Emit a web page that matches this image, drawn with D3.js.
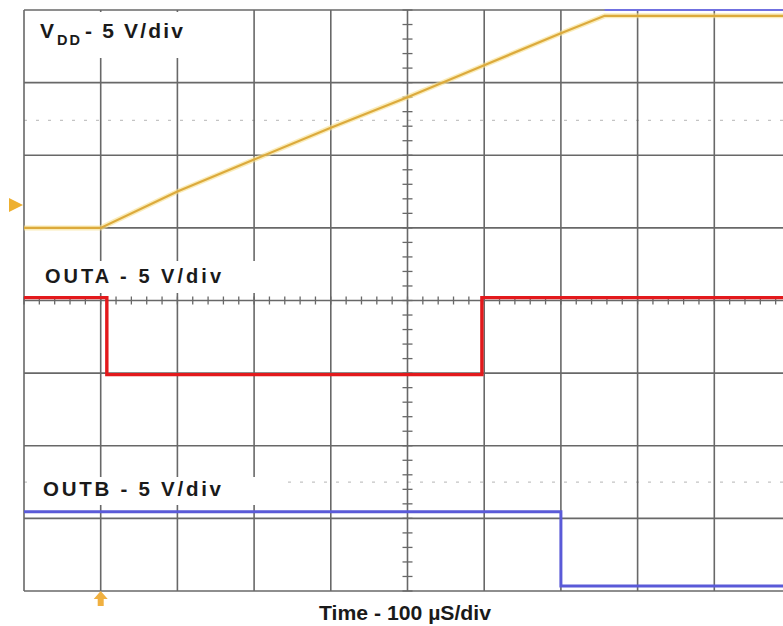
<!DOCTYPE html>
<html><head><meta charset="utf-8">
<script src="https://cdn.jsdelivr.net/npm/d3@7"></script>
<style>body{margin:0;background:#fff}svg{display:block}</style>
</head><body>
<svg id="c" width="783" height="626"></svg>
<script>
// ---- data (time in µs, voltage in V) ----
const vddT = [0, 100, 200, 300, 400, 500, 600, 700, 757, 1000];
const vddV = [0, 0, 2.5, 4.7, 6.9, 9.0, 11.2, 13.4, 14.6, 14.6];
const outaT = [0, 108, 108, 597, 597, 1000];
const outaV = [5.3, 5.3, 0, 0, 5.3, 5.3];
const outbT = [0, 700, 700, 1000];
const outbV = [5.1, 5.1, 0, 0];
const channels = ["VDD", "OUTA", "OUTB"];
const chOffsetDiv = [1, -1.02, -3.93];   // ground reference (divisions from centre)
const voltsPerDiv = [5, 5, 5];
const timeGrid = d3.range(0, 1001, 100);
const divGrid = d3.range(-4, 4.01, 1);
const axisLabel = "Time - 100 µS/div";

const svg = d3.select("#c");
const x = d3.scaleLinear().domain([0, 1000]).range([24, 791]);
const yDiv = d3.scaleLinear().domain([-4, 4]).range([591, 10]);
const yCh = i => v => yDiv(chOffsetDiv[i] + v / voltsPerDiv[i]);

// faint dashed remnants
[2.48, -2.5].forEach(d => {
  svg.append("line").attr("x1", 24).attr("x2", 783).attr("y1", yDiv(d)).attr("y2", yDiv(d))
    .attr("stroke", "#c4c4c4").attr("stroke-width", 1.2).attr("stroke-dasharray", "3,9");
});

// grid
const gridCol = "#686868";
const g = svg.append("g");
g.selectAll(".vg").data(timeGrid).join("line")
  .attr("x1", d => x(d)).attr("x2", d => x(d)).attr("y1", yDiv(4)).attr("y2", yDiv(-4))
  .attr("stroke", gridCol).attr("stroke-width", 1.6);
g.selectAll(".hg").data(divGrid).join("line")
  .attr("x1", x(0)).attr("x2", 783).attr("y1", d => yDiv(d)).attr("y2", d => yDiv(d))
  .attr("stroke", gridCol).attr("stroke-width", 1.6);
// minor ticks on centre axes
const minorY = d3.range(-4, 4.001, 0.2);
g.selectAll(".my").data(minorY).join("line")
  .attr("x1", x(500) - 5).attr("x2", x(500) + 5).attr("y1", d => yDiv(d)).attr("y2", d => yDiv(d))
  .attr("stroke", gridCol).attr("stroke-width", 1.3);
const minorX = d3.range(0, 1001, 20);
g.selectAll(".mx").data(minorX).join("line")
  .attr("x1", d => x(d)).attr("x2", d => x(d)).attr("y1", yDiv(0) - 4).attr("y2", yDiv(0) + 4)
  .attr("stroke", gridCol).attr("stroke-width", 1.3);

// top clipped trace segment
svg.append("line").attr("x1", x(757)).attr("x2", 783).attr("y1", yDiv(4)).attr("y2", yDiv(4))
  .attr("stroke", "#7070e0").attr("stroke-width", 2);

const line = (T, V, i) => d3.line().x((d, k) => x(T[k])).y((d, k) => yCh(i)(V[k]))(T);

// VDD trace
svg.append("path").attr("d", line(vddT, vddV, 0)).attr("fill", "none")
  .attr("stroke", "#f6e08a").attr("stroke-width", 5).attr("stroke-opacity", 0.6);
svg.append("path").attr("d", line(vddT, vddV, 0)).attr("fill", "none")
  .attr("stroke", "#dcaa3c").attr("stroke-width", 2.2);
// OUTA trace
svg.append("path").attr("d", line(outaT, outaV, 1)).attr("fill", "none")
  .attr("stroke", "#e3191c").attr("stroke-width", 3.4).attr("stroke-linejoin", "miter");
// OUTB trace
svg.append("path").attr("d", line(outbT, outbV, 2)).attr("fill", "none")
  .attr("stroke", "#5a5ad8").attr("stroke-width", 3).attr("stroke-linejoin", "miter");

// markers
svg.append("path").attr("d", d3.line()([[9, 198], [23, 205], [9, 212]])).attr("fill", "#eeb030");
const mx = x(100);
svg.append("path").attr("d", d3.line()([[mx - 7, 599], [mx, 591], [mx + 7, 599], [mx + 3, 599], [mx + 3, 606], [mx - 3, 606], [mx - 3, 599]]))
  .attr("fill", "#f0b040");

// labels
const font = "'Liberation Sans', Arial, sans-serif";
const col = "#1a1a1a";
svg.append("rect").attr("x", 27).attr("y", 12).attr("width", 223).attr("height", 46).attr("fill", "#fff");
svg.append("rect").attr("x", 27).attr("y", 261).attr("width", 232).attr("height", 32).attr("fill", "#fff");
svg.append("rect").attr("x", 27).attr("y", 477).attr("width", 253).attr("height", 28).attr("fill", "#fff");

svg.append("text").attr("x", 40).attr("y", 37.5).attr("font-family", font).attr("font-weight", "bold")
  .attr("font-size", 21).attr("fill", col).text("V");
svg.append("text").attr("x", 57).attr("y", 45).attr("font-family", font).attr("font-weight", "bold")
  .attr("font-size", 14.5).attr("fill", col).attr("textLength", 23).attr("lengthAdjust", "spacing").text("DD");
svg.append("text").attr("x", 85).attr("y", 37.5).attr("font-family", font).attr("font-weight", "bold")
  .attr("font-size", 21).attr("fill", col).attr("textLength", 98).attr("lengthAdjust", "spacing").text("- 5 V/div");
svg.append("text").attr("x", 45).attr("y", 283).attr("font-family", font).attr("font-weight", "bold")
  .attr("font-size", 20).attr("fill", col).attr("textLength", 176).attr("lengthAdjust", "spacing").text("OUTA - 5 V/div");
svg.append("text").attr("x", 43).attr("y", 496).attr("font-family", font).attr("font-weight", "bold")
  .attr("font-size", 20.5).attr("fill", col).attr("textLength", 178).attr("lengthAdjust", "spacing").text("OUTB - 5 V/div");
svg.append("text").attr("x", 319).attr("y", 620).attr("font-family", font).attr("font-weight", "bold")
  .attr("font-size", 20).attr("fill", col).attr("textLength", 172).attr("lengthAdjust", "spacingAndGlyphs").text(axisLabel);
</script>
</body></html>
